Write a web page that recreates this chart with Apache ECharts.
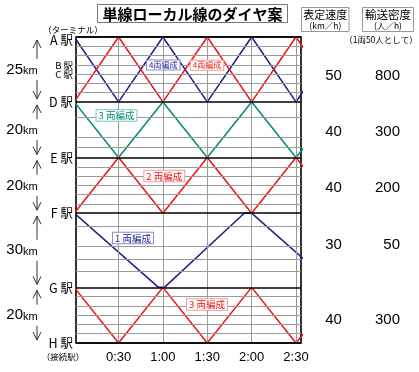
<!DOCTYPE html>
<html><head><meta charset="utf-8">
<script src="https://cdn.jsdelivr.net/npm/echarts@6/dist/echarts.min.js"></script>
<style>html,body{margin:0;padding:0;background:#fff}#c{width:419px;height:372px}</style>
</head><body><div id="c"></div>
<script>
// ---- data ----
// vertical position unit = one minor-station spacing
const stationNames = ['A 駅', 'B 駅', 'C 駅', 'D 駅', 'E 駅', 'F 駅', 'G 駅', 'H 駅'];
const stationPos   = [0, 3, 4, 7, 13, 19, 27, 33];
const mainStations = [0, 7, 13, 19, 27, 33];
const minorStops   = [1, 2, 3, 4, 5, 6, 8.7, 10.8, 11.9, 14, 15, 16, 17, 18, 20.4, 22.6, 24, 25.3, 28, 29, 30, 31, 32];
const sectionKm    = [25, 20, 20, 30, 20];
const speeds       = [50, 40, 40, 30, 40];
const densities    = [800, 300, 200, 50, 300];
const timeTicks    = [30, 60, 90, 120, 150];
const timeLabels   = ['0:30', '1:00', '1:30', '2:00', '2:30'];
// train paths: [minutes, position]
const blueAD  = [[0, 0], [30, 7], [60, 0], [90, 7], [120, 0], [150, 7], [180, 0]];
const redAD   = [[0, 7], [30, 0], [60, 7], [90, 0], [120, 7], [150, 0], [180, 7]];
const tealDE  = [[0, 7], [30, 13], [60, 7], [90, 13], [120, 7], [150, 13], [180, 7]];
const redEF   = [[0, 19], [30, 13], [60, 19], [90, 13], [120, 19], [150, 13], [180, 19]];
const blueFG  = [[0, 19], [57, 27], [61, 27], [115, 19], [120, 19], [177, 27]];
const redGH   = [[0, 27], [30, 33], [60, 27], [90, 33], [120, 27], [150, 33], [180, 27]];

const RED = '#f01010', NAVY = '#1c1c8a', TEAL = '#008a74';
const FONT = '"Noto Sans CJK JP", sans-serif';

const chart = echarts.init(document.getElementById('c'));

function lineSeries(data, color) {
  return { type: 'line', data: data, symbol: 'none', silent: true, z: 3,
           lineStyle: { color: color, width: 1.5 } };
}

const gridMarks = []
  .concat(minorStops.map(v => ({ yAxis: v, lineStyle: { color: '#9a9a9a', width: 1, type: 'solid' } })))
  .concat(timeTicks.map(v => ({ xAxis: v, lineStyle: { color: '#9a9a9a', width: 1, type: 'solid' } })))
  .concat(mainStations.map(v => ({ yAxis: v, lineStyle: { color: '#000', width: 1.6, type: 'solid' } })));

chart.setOption({
  animation: false,
  grid: { left: 76, right: 118, top: 37, bottom: 29, show: true, borderColor: '#000', borderWidth: 1.6, backgroundColor: '#fff' },
  xAxis: {
    type: 'value', min: 1.2, max: 153.4,
    axisLine: { show: false }, axisTick: { show: false }, splitLine: { show: false },
    axisLabel: { customValues: timeTicks, margin: 8, color: '#000', fontSize: 13, fontFamily: 'Liberation Sans, Arial',
                 formatter: v => timeLabels[timeTicks.indexOf(v)] }
  },
  yAxis: {
    type: 'value', inverse: true, min: 0, max: 33,
    axisLine: { show: false }, axisTick: { show: false }, splitLine: { show: false },
    axisLabel: { show: false }
  },
  series: [
    { type: 'line', data: [[1.2, 0]], symbol: 'none', silent: true, z: 1, lineStyle: { opacity: 0 },
      markLine: { silent: true, symbol: 'none', label: { show: false }, animation: false, data: gridMarks } },
    lineSeries(blueAD, NAVY),
    lineSeries(redAD, RED),
    lineSeries(tealDE, TEAL),
    lineSeries(redEF, RED),
    lineSeries(blueFG, NAVY),
    lineSeries(redGH, RED)
  ]
});

// ---- annotations ----
const g = [];
function txt(x, y, text, font, color, align, extra) {
  g.push(Object.assign({ type: 'text', x: x, y: y, z: 100,
    style: Object.assign({ text: text, font: font, fill: color || '#000', align: align || 'center', verticalAlign: 'middle' }, extra || {}) }));
}
function rect(x, y, w, h, stroke) {
  g.push({ type: 'rect', z: 99, shape: { x: x, y: y, width: w, height: h },
    style: { fill: '#fff', stroke: stroke || '#888', lineWidth: 1 } });
}
function poly(pts, color) {
  g.push({ type: 'polyline', z: 98, shape: { points: pts }, style: { stroke: color || '#333', lineWidth: 1, fill: null } });
}
const yPix = p => chart.convertToPixel({ gridIndex: 0 }, [0, p])[1];

// title
rect(97.5, 4.5, 190, 18, '#777');
txt(192.5, 13.8, '単線ローカル線のダイヤ案', 'bold 15px ' + FONT, '#000');
// header boxes
rect(301.5, 7.5, 47.5, 24, '#999');
txt(325.3, 14.8, '表定速度', '11px ' + FONT);
txt(325.3, 25.8, '(km／h)', '8.5px ' + FONT);
rect(362.5, 7.5, 51, 24, '#999');
txt(388, 14.8, '輸送密度', '11.5px ' + FONT);
txt(388, 25.8, '(人／h)', '8.5px ' + FONT);
txt(381, 39.5, '（1両50人として）', '8.5px ' + FONT);
// left notes
txt(73, 29.5, '（ターミナル）', '8.5px ' + FONT);
txt(63, 356.5, '（接続駅）', '8.5px ' + FONT);
// station labels
stationNames.forEach((n, i) => {
  const small = (n === 'B 駅' || n === 'C 駅');
  const y = yPix(stationPos[i]) + (i === 0 ? 3.5 : 0.5);
  txt(73, y, n, (small ? '9.5px ' : '12.5px ') + FONT, '#000', 'right');
});

// distance arrows
const ax = 37;
const valueRowY = [76, 132, 188, 245, 320];
for (let i = 0; i < sectionKm.length; i++) {
  const top = yPix(mainStations[i]) + 3;
  const bot = yPix(mainStations[i + 1]) - 3;
  poly([[ax, top], [ax, bot]]);
  poly([[ax - 4, top + 8], [ax, top], [ax + 4, top + 8]]);
  poly([[ax - 4, bot - 8], [ax, bot], [ax + 4, bot - 8]]);
  const mid = (top + bot) / 2;
  g.push({ type: 'text', x: 22, y: mid, z: 100,
    style: { text: '{n|' + sectionKm[i] + '}{k|km}', align: 'center', verticalAlign: 'middle',
             backgroundColor: '#fff', padding: [3, 2, 3, 2],
             rich: { n: { font: '15px Liberation Sans, Arial', fill: '#000' },
                     k: { font: '11px Liberation Sans, Arial', fill: '#000', padding: [3, 0, 0, 0] } } } });
  txt(333.5, valueRowY[i], String(speeds[i]), '15px Liberation Sans, Arial', '#000');
  txt(400, valueRowY[i], String(densities[i]), '15px Liberation Sans, Arial', '#000', 'right');
}

// train formation labels
function tag(x, y, text, color, border, size) {
  txt(x, y, text, size + 'px ' + FONT, color, 'center',
      { backgroundColor: '#fff', borderColor: border, borderWidth: 1, padding: [1, 2, 0, 2] });
}
tag(163.3, 65, '4両編成', NAVY, '#8c8cc8', 8);
tag(207, 65.3, '4両編成', RED, '#f49a9a', 8);
tag(116.5, 115.5, '3 両編成', TEAL, '#7cc4b8', 9.5);
tag(164.3, 176, '2 両編成', RED, '#f49a9a', 9.5);
tag(133, 238, '1 両編成', NAVY, '#8c8cc8', 9.5);
tag(207, 304.5, '3 両編成', RED, '#f49a9a', 9.5);

chart.setOption({ graphic: { elements: g } });
</script>
</body></html>
